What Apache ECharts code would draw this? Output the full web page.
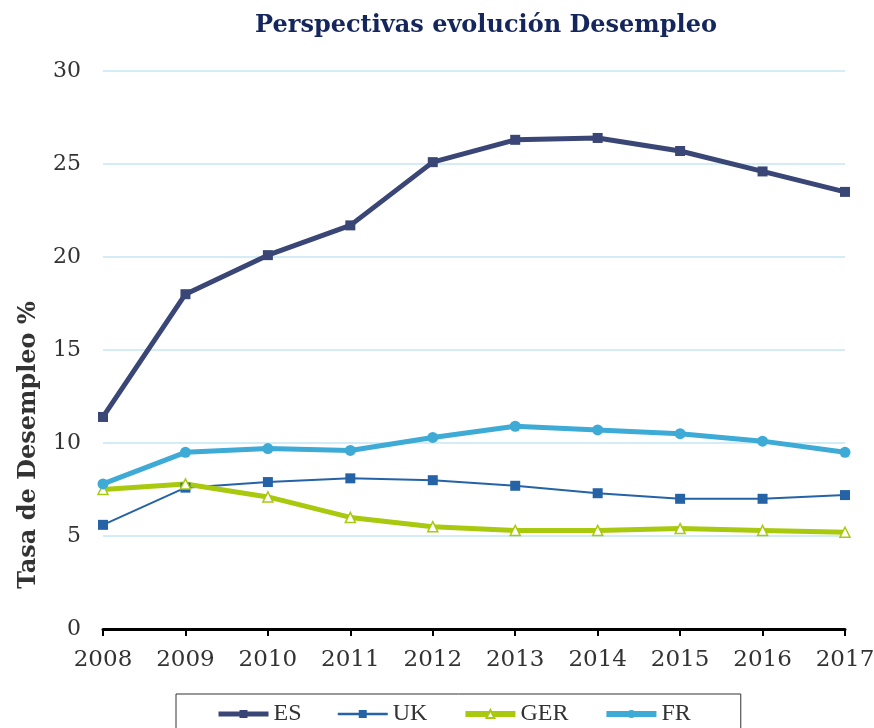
<!DOCTYPE html>
<html>
<head>
<meta charset="utf-8">
<script src="https://cdn.jsdelivr.net/npm/echarts@6/dist/echarts.min.js"></script>
<style>
  html, body { margin: 0; padding: 0; background: #fff; }
  #chart { width: 874px; height: 728px; }
</style>
</head>
<body>
<div id="chart"></div>
<script>
const YEARS = ["2008", "2009", "2010", "2011", "2012", "2013", "2014", "2015", "2016", "2017"];
const ES = [11.4, 18.0, 20.1, 21.7, 25.1, 26.3, 26.4, 25.7, 24.6, 23.5];
const UK = [5.6, 7.6, 7.9, 8.1, 8.0, 7.7, 7.3, 7.0, 7.0, 7.2];
const GER = [7.5, 7.8, 7.1, 6.0, 5.5, 5.3, 5.3, 5.4, 5.3, 5.2];
const FR = [7.8, 9.5, 9.7, 9.6, 10.3, 10.9, 10.7, 10.5, 10.1, 9.5];

const SERIF = "'DejaVu Serif', 'Liberation Serif', serif";

const chart = echarts.init(document.getElementById("chart"));

const line = (name, data, color, width, symbol, size, fill) => ({
  name,
  type: "line",
  data,
  symbol,
  symbolSize: size,
  showSymbol: true,
  lineStyle: { color, width },
  itemStyle: { color: fill || color, borderColor: color, borderWidth: fill ? 1.5 : 0 }
});

chart.setOption({
  animation: false,
  title: {
    text: "Perspectivas evolución Desempleo",
    left: 481,
    textAlign: "center",
    top: 9,
    textStyle: { fontFamily: SERIF, fontWeight: "bold", fontSize: 24, color: "#14265c" }
  },
  grid: { left: 103, right: 29, top: 71, bottom: 99, outerBoundsMode: "none" },
  legend: {
    left: 176,
    top: 694,
    padding: [8, 50, 20, 40],
    itemWidth: 50,
    itemHeight: 10,
    itemGap: 35,
    borderColor: "#333",
    borderWidth: 1,
    textStyle: { fontFamily: "'Liberation Serif', serif", fontSize: 24, color: "#333" },
    data: [
      { name: "ES", lineStyle: { width: 5 } },
      { name: "UK", lineStyle: { width: 2.5 } },
      { name: "GER", lineStyle: { width: 6 } },
      { name: "FR", lineStyle: { width: 6 } }
    ]
  },
  xAxis: {
    type: "category",
    data: YEARS,
    boundaryGap: false,
    axisLine: { lineStyle: { color: "#000", width: 3 } },
    axisTick: { length: 7, lineStyle: { color: "#000", width: 2 } },
    axisLabel: { fontFamily: SERIF, fontSize: 23, color: "#333", margin: 20 },
    splitLine: { show: false }
  },
  yAxis: {
    type: "value",
    min: 0,
    max: 30,
    interval: 5,
    name: "Tasa de Desempleo %",
    nameLocation: "middle",
    nameGap: 62,
    nameTextStyle: { fontFamily: SERIF, fontWeight: "bold", fontSize: 24, color: "#333", padding: [0, 190, 0, 0] },
    axisLine: { show: false },
    axisTick: { show: false },
    axisLabel: { fontFamily: SERIF, fontSize: 22, color: "#333", margin: 22 },
    splitLine: { lineStyle: { color: "#d3ecf5", width: 2 } }
  },
  series: [
    line("ES", ES, "#3a4676", 5, "rect", 10),
    line("UK", UK, "#2563a6", 2, "rect", 10),
    line("GER", GER, "#a9c90e", 5, "triangle", 10, "#fff"),
    line("FR", FR, "#3eaad6", 5, "circle", 11)
  ]
});
</script>
</body>
</html>
